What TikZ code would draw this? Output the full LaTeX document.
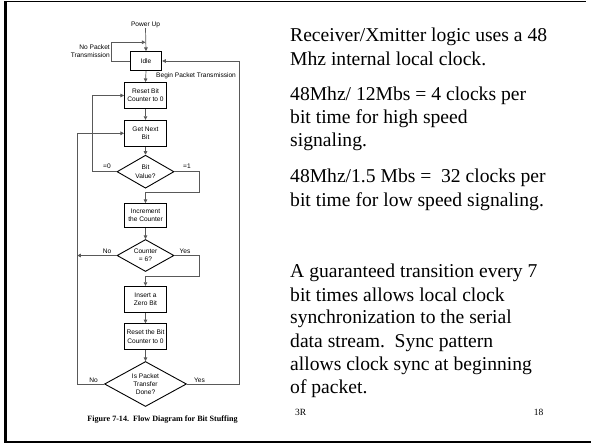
\documentclass[tikz,border=0pt]{standalone}
\usepackage{fontspec}
\setmainfont{Liberation Serif}
\newfontfamily\arialf{Liberation Sans}
\usetikzlibrary{shapes.geometric,arrows.meta}
\begin{document}
\begin{tikzpicture}[x=1pt,y=-1pt,
  fc/.style={font=\arialf\fontsize{6.6}{8.2}\selectfont, align=center, inner sep=0pt},
  procbox/.style={fc, draw=black, line width=0.9pt, minimum width=42pt, minimum height=26pt},
  decision/.style={fc, diamond, draw=black, line width=0.9pt, aspect=1.7},
  lbl/.style={fc},
  conn/.style={draw=black!65, line width=0.7pt},
  arr/.style={conn, -{Triangle[length=3.6pt,width=3.6pt]}, shorten >=0pt},
  body/.style={font=\fontsize{19.6}{23}\selectfont, anchor=base west, inner sep=0pt},
]
\useasboundingbox (0,0) rectangle (591,444);
% slide frame
\draw[line width=1pt] (4,1.5) -- (586,1.5);
\draw[line width=2.6pt] (5.4,1) -- (5.4,443);
\draw[line width=2.3pt] (4,441.8) -- (591,441.8);

% flowchart nodes
\node[lbl] (powerup) at (145.5,25) {Power Up};
\node[procbox, minimum width=31.5pt, minimum height=19pt] (idle) at (146,61) {Idle};
\node[procbox] (reset) at (145.5,95.5) {Reset Bit\\Counter to 0};
\node[procbox] (getnext) at (145.5,133.3) {Get Next\\Bit};
\node[decision, minimum width=57pt, minimum height=33pt] (bit) at (145.5,171.7) {Bit\\Value?};
\node[procbox, minimum height=24pt] (incr) at (145.5,215.5) {Increment\\the Counter};
\node[decision, minimum width=57pt, minimum height=32pt] (counter) at (145.5,255.5) {Counter\\= 6?};
\node[procbox] (insert) at (145.5,299.3) {Insert a\\Zero Bit};
\node[procbox] (reset2) at (145.5,336.7) {Reset the Bit\\Counter to 0};
\node[decision, minimum width=82pt, minimum height=45pt] (done) at (145.5,384) {Is Packet\\Transfer\\Done?};

% labels
\node[lbl, align=right, anchor=east] (nplbl) at (110,51) {No Packet\\Transmission};
\node[lbl, anchor=west] (bplbl) at (156,76) {Begin Packet Transmission};
\node[lbl] (eq0) at (107,166) {=0};
\node[lbl] (eq1) at (187,166) {=1};
\node[lbl] (cno) at (107,251.7) {No};
\node[lbl] (cyes) at (185,251.7) {Yes};
\node[lbl] (dno) at (93.5,380) {No};
\node[lbl] (dyes) at (199.5,380) {Yes};

% helper coordinates
\coordinate (npA) at (111.7,61);
\coordinate (npB) at (111.7,42.3);
\coordinate (npC) at (145.5,42.3);
\coordinate (yA) at (239,384);
\coordinate (yB) at (239,61);
\coordinate (z0A) at (92.7,171.7);
\coordinate (z0B) at (92.7,95.5);
\coordinate (z1A) at (199.3,171.7);
\coordinate (z1B) at (199.3,192.7);
\coordinate (z1C) at (145.5,192.7);
\coordinate (cnA) at (77.3,255.5);
\coordinate (cyA) at (199.3,255.5);
\coordinate (cyB) at (199.3,276.7);
\coordinate (cyC) at (145.5,276.7);
\coordinate (dnA) at (77.3,384);
\coordinate (dnB) at (77.3,133.3);

% connectors
\draw[arr] (powerup.south) -- (idle.north);
\draw[arr] (idle.west) -- (npA) -- (npB) -- (npC);
\draw[arr] (done.east) -- (yA) -- (yB) -- (idle.east);
\draw[arr] (idle.south) -- (reset.north);
\draw[arr] (reset.south) -- (getnext.north);
\draw[arr] (getnext.south) -- (bit.north);
\draw[arr] (bit.west) -- (z0A) -- (z0B) -- (reset.west);
\draw[arr] (bit.east) -- (z1A) -- (z1B) -- (z1C) -- (incr.north);
\draw[arr] (incr.south) -- (counter.north);
\draw[arr] (counter.west) -- (cnA);
\draw[arr] (counter.east) -- (cyA) -- (cyB) -- (cyC) -- (insert.north);
\draw[arr] (insert.south) -- (reset2.north);
\draw[arr] (reset2.south) -- (done.north);
\draw[arr] (done.west) -- (dnA) -- (dnB) -- (getnext.west);

% caption
\node[font=\bfseries\fontsize{8.1}{10}\selectfont, anchor=base, inner sep=0pt] (caption) at (162.5,421) {Figure 7-14.\ \ Flow Diagram for Bit Stuffing};

% body text
\node[body] (t1) at (290,41.7) {Receiver/Xmitter logic uses a 48};
\node[body] (t2) at (290,65) {Mhz internal local clock.};
\node[body] (t3) at (290,100) {48Mhz/ 12Mbs = 4 clocks per};
\node[body] (t4) at (290,123.3) {bit time for high speed};
\node[body] (t5) at (290,146.7) {signaling.};
\node[body] (t6) at (290,182.7) {48Mhz/1.5 Mbs =\ \ 32 clocks per};
\node[body] (t7) at (290,206) {bit time for low speed signaling.};
\node[body] (t8) at (290,277.7) {A guaranteed transition every 7};
\node[body] (t9) at (290,301) {bit times allows local clock};
\node[body] (t10) at (290,323.8) {synchronization to the serial};
\node[body] (t11) at (290,347.3) {data stream.\ \ Sync pattern};
\node[body] (t12) at (290,370.3) {allows clock sync at beginning};
\node[body] (t13) at (290,393.3) {of packet.};

% footer
\node[font=\fontsize{9.5}{11}\selectfont, anchor=base west, inner sep=0pt] (ft1) at (295,415) {3R};
\node[font=\fontsize{9.5}{11}\selectfont, anchor=base east, inner sep=0pt] (ft2) at (543.5,415) {18};
\end{tikzpicture}
\end{document}
